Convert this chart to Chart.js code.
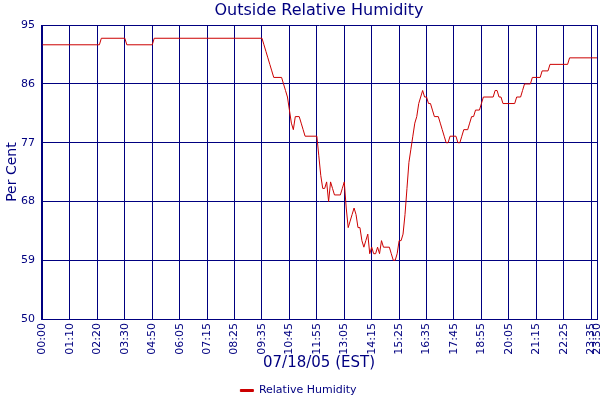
<!DOCTYPE html>
<html>
<head>
<meta charset="utf-8">
<script src="https://cdn.jsdelivr.net/npm/chart.js@4.4.1/dist/chart.umd.min.js"></script>
<style>
  html, body { margin: 0; padding: 0; background: #fff; }
</style>
</head>
<body>
<canvas id="chart" width="600" height="400"></canvas>
<script>
// sample number (5 min readings) where the humidity trace turns
const sampleIndex = [
  0, 29, 30, 42, 43, 56, 57, 112, 113, 114, 115, 116, 117, 118, 122, 123, 124, 125, 126, 127,
  128, 129, 131, 132, 133, 134, 140, 141, 142, 143, 144, 145, 146, 147, 148, 149, 152, 153, 154, 155,
  156, 157, 158, 159, 160, 161, 162, 163, 164, 165, 166, 167, 168, 169, 170, 171, 172, 173, 174, 177,
  178, 179, 180, 181, 182, 183, 184, 185, 186, 187, 188, 189, 190, 191, 192, 193, 194, 195, 196, 197,
  198, 199, 200, 202, 203, 204, 205, 206, 207, 208, 211, 212, 213, 214, 215, 217, 218, 219, 220, 221,
  223, 224, 225, 230, 231, 232, 233, 234, 235, 241, 242, 244, 245, 246, 249, 250, 254, 255, 258, 259,
  268, 269, 283
];
const humidity = [
  92, 92, 93, 93, 92, 92, 93, 93, 92, 91, 90, 89, 88, 87, 87, 86, 85, 84, 82, 80,
  79, 81, 81, 80, 79, 78, 78, 75, 72, 70, 70, 71, 68, 71, 70, 69, 69, 70, 71, 67,
  64, 65, 66, 67, 66, 64, 64, 62, 61, 62, 63, 60, 61, 60, 60, 61, 60, 62, 61, 61,
  60, 59, 59, 60, 62, 62, 63, 66, 70, 74, 76, 78, 80, 81, 83, 84, 85, 84, 84, 83,
  83, 82, 81, 81, 80, 79, 78, 77, 77, 78, 78, 77, 77, 78, 79, 79, 80, 81, 81, 82,
  82, 83, 84, 84, 85, 85, 84, 84, 83, 83, 84, 84, 85, 86, 86, 87, 87, 88, 88, 89,
  89, 90, 90
];

// labelled time ticks along the x axis
const tickIndex = [0, 14, 28, 42, 56, 70, 84, 98, 112, 126, 140, 154, 168, 182, 196, 210, 224, 238, 252, 266, 280, 283];
const tickLabels = [
  "00:00", "01:10", "02:20", "03:30", "04:50", "06:05", "07:15", "08:25", "09:35", "10:45", "11:55",
  "13:05", "14:15", "15:25", "16:35", "17:45", "18:55", "20:05", "21:15", "22:25", "23:35", "23:50"
];

const NAVY = "#000080";
const FONT = "'DejaVu Sans', Verdana, sans-serif";

const points = sampleIndex.map((x, i) => ({ x: x, y: humidity[i] }));

// push the legend row a little lower, as in the original
const legendDrop = {
  id: "legendDrop",
  afterLayout(chart) {
    chart.legend.top += 6;
    chart.legend.bottom += 6;
  },
};

new Chart(document.getElementById("chart"), {
  type: "line",
  data: {
    datasets: [{
      label: "Relative Humidity",
      data: points,
      borderColor: "#cc0000",
      backgroundColor: "#cc0000",
      borderWidth: 1,
      pointRadius: 0,
      tension: 0,
      fill: false,
    }],
  },
  plugins: [legendDrop],
  options: {
    responsive: false,
    animation: false,
    layout: { padding: { left: 0, right: 3, top: 0, bottom: 0 } },
    plugins: {
      tooltip: { enabled: false },
      title: {
        display: true,
        text: "Outside Relative Humidity",
        color: NAVY,
        fullSize: false,
        font: { family: FONT, size: 16, weight: "normal", lineHeight: 1.2 },
        padding: { top: 1, bottom: 5 },
      },
      legend: {
        position: "bottom",
        labels: {
          color: NAVY,
          font: { family: FONT, size: 11 },
          boxWidth: 13,
          boxHeight: 2,
          padding: 0,
        },
      },
    },
    scales: {
      x: {
        type: "linear",
        min: -0.8,
        max: 283,
        afterBuildTicks: (scale) => {
          scale.ticks = tickIndex.map((v) => ({ value: v }));
        },
        afterFit: (scale) => {
          scale.height = 60;
          scale.paddingLeft = 0;
          scale.paddingRight = 0;
        },
        ticks: {
          autoSkip: false,
          maxRotation: 90,
          minRotation: 90,
          padding: 4,
          color: NAVY,
          font: { family: FONT, size: 11 },
          callback: (v) => tickLabels[tickIndex.indexOf(v)],
        },
        grid: { color: NAVY, lineWidth: 1, drawTicks: false },
        border: { display: true, color: NAVY },
        title: {
          display: true,
          text: "07/18/05 (EST)",
          color: NAVY,
          font: { family: FONT, size: 15, lineHeight: 1.2 },
          padding: 7,
        },
      },
      y: {
        min: 50,
        max: 95,
        afterFit: (scale) => {
          scale.width = 41;
          scale.paddingTop = 0;
          scale.paddingBottom = 0;
        },
        ticks: {
          stepSize: 9,
          padding: 6,
          color: NAVY,
          font: { family: FONT, size: 11 },
        },
        grid: { color: NAVY, lineWidth: 1, drawTicks: false },
        border: { display: true, color: NAVY },
        title: {
          display: true,
          text: "Per Cent",
          color: NAVY,
          font: { family: FONT, size: 14, lineHeight: 1.2 },
          padding: 4,
        },
      },
    },
  },
});
</script>
</body>
</html>
